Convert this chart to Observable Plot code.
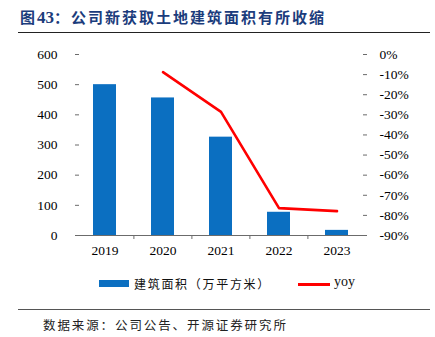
<!DOCTYPE html>
<html><head><meta charset="utf-8">
<script src="https://cdn.jsdelivr.net/npm/d3@7"></script>
<script src="https://cdn.jsdelivr.net/npm/@observablehq/plot@0.6"></script>
<style>
body{margin:0;background:#fff;}
#wrap{position:relative;width:435px;height:337px;overflow:hidden;background:#fff;}
#wrap svg{position:absolute;left:0;top:0;}
.title{position:absolute;left:20px;top:6px;font-family:"Noto Sans CJK SC";font-weight:bold;font-size:15px;letter-spacing:2px;color:#1b3c7c;white-space:nowrap;}
.title .num{font-family:"Liberation Serif";font-size:17px;letter-spacing:0;}
.hr1{position:absolute;left:18px;top:32px;width:412px;height:0;border-top:1.3px solid #222;}
.hr2{position:absolute;left:18px;top:309px;width:412px;height:0;border-top:1px solid #555;}
.src{position:absolute;left:43px;top:315px;font-family:"Noto Sans CJK SC";font-size:12.5px;letter-spacing:1.9px;color:#222;white-space:nowrap;}
.leg{position:absolute;top:275px;font-size:12px;color:#111;white-space:nowrap;}
.sw{position:absolute;}
</style></head>
<body><div id="wrap">
<div class="title">图<span class="num">43</span>：公司新获取土地建筑面积有所收缩</div>
<div class="hr1"></div>
<div class="sw" style="left:99px;top:280px;width:30px;height:7px;background:#0b6fc1"></div>
<div class="leg" style="left:134px;font-family:'Noto Sans CJK SC';letter-spacing:1.7px;">建筑面积（万平方米）</div>
<div class="sw" style="left:298px;top:283px;width:32px;height:2.5px;background:#ff0000"></div>
<div class="leg" style="left:334px;font-family:'Liberation Serif';font-size:14px;top:274px;">yoy</div>
<div class="hr2"></div>
<div class="src">数据来源：公司公告、开源证券研究所</div>
</div>
<script>
const years = ["2019","2020","2021","2022","2023"];
const area = [500, 456, 326, 77, 17];
const yoyYears = ["2020","2021","2022","2023"];
const yoy = [-8.8, -28.5, -76.4, -77.9];
const leftTicks = [0,100,200,300,400,500,600];
const rightTicks = [0,-10,-20,-30,-40,-50,-60,-70,-80,-90];

const yMax = 600, pMin = -90;
const toLeft = v => (v - pMin) / (0 - pMin) * yMax;

const bars = years.map((y,i)=>({year:y, v:area[i]}));
const line = yoyYears.map((y,i)=>({year:y, v:toLeft(yoy[i])}));
const axisColor = "#6b6b6b";

const chart = Plot.plot({
  width: 435, height: 337,
  marginTop: 54, marginBottom: 102, marginLeft: 75, marginRight: 69,
  style: {fontFamily: "Liberation Serif", fontSize: "13.5px", color: "#000", background: "transparent"},
  x: {type: "band", domain: years, padding: 0.6, paddingOuter: 0.3, axis: null, label: null},
  y: {domain: [0, yMax], axis: null, label: null},
  marks: [
    Plot.barY(bars, {x: "year", y: "v", fill: "#0b6fc1"}),
    Plot.axisY(leftTicks, {anchor: "left", label: null, tickSize: -4, tickFormat: () => "", stroke: axisColor, line: true}),
    Plot.axisY(leftTicks, {anchor: "left", label: null, tickSize: 0, tickPadding: 18, tickFormat: d => d, fill: "#000"}),
    Plot.axisY(rightTicks.map(toLeft), {anchor: "right", label: null, tickSize: -4, tickFormat: () => "", stroke: axisColor, line: true}),
    Plot.axisY(rightTicks.map(toLeft), {anchor: "right", label: null, tickSize: 0, tickPadding: 13, tickFormat: d => `${Math.round(d / yMax * 90 - 90)}%`, fill: "#000"}),
    Plot.ruleY([0], {stroke: axisColor, strokeWidth: 1.2}),
    Plot.axisX(years.slice(1), {anchor: "bottom", label: null, tickSize: 4, tickFormat: () => "", stroke: axisColor, dx: -291/5/2}),
    Plot.axisX(years, {anchor: "bottom", label: null, tickSize: 0, tickPadding: 10, fill: "#000"}),
    Plot.line(line, {x: "year", y: "v", stroke: "#ff0000", strokeWidth: 2.6})
  ]
});
document.getElementById("wrap").prepend(chart);
</script>
</body></html>
